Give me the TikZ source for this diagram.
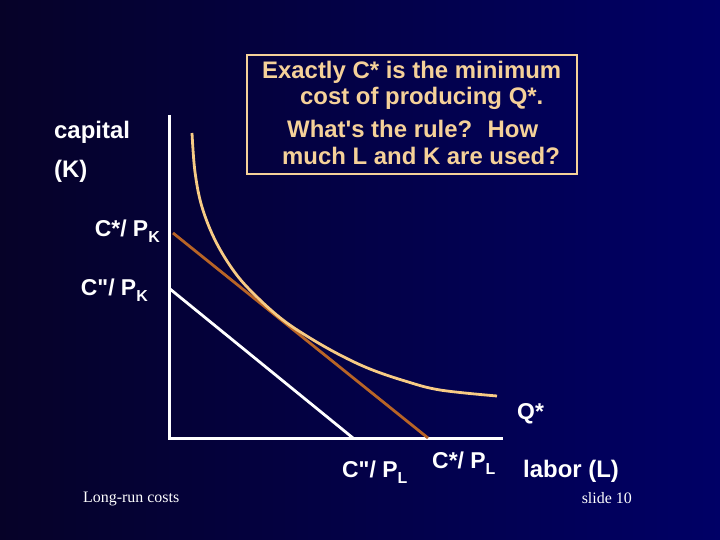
\documentclass[tikz,border=0pt]{standalone}
\usepackage{fontspec}
\setmainfont{Liberation Serif}
\setsansfont{Liberation Sans}[Ligatures=TeXOff]
\usetikzlibrary{positioning}
\definecolor{DeepNavy}{HTML}{060228}
\definecolor{SlideBlue}{HTML}{000066}
\definecolor{PaleTan}{HTML}{F7CB85}
\definecolor{Sienna}{HTML}{B86426}
\definecolor{NoteGold}{HTML}{F5D199}
\newcommand{\lowidx}[1]{\raisebox{-6bp}{\fontsize{16}{16}\selectfont #1}}

\begin{document}
\begin{tikzpicture}[x=1bp,y=-1bp,
  lbl/.style={text=white,inner sep=0pt,font=\sffamily\bfseries\fontsize{23}{26}\selectfont},
  biglbl/.style={text=white,inner sep=0pt,font=\sffamily\bfseries\fontsize{24}{27}\selectfont},
  foot/.style={text=white,inner sep=0pt,font=\rmfamily\fontsize{16}{19}\selectfont},
  note/.style={text=NoteGold,inner sep=0pt,align=left,font=\sffamily\bfseries\fontsize{24}{27}\selectfont},
  frame/.style={draw=NoteGold,line width=1.3bp},
  axis/.style={draw=white,line width=3bp,line join=miter},
  budget/.style={line width=2.8bp},
  isoquant/.style={draw=PaleTan,line width=2.8bp}
]
\fill[left color=DeepNavy,right color=SlideBlue] (0,0) rectangle (720,540);
\useasboundingbox (0,0) rectangle (720,540);
% axes
\coordinate (origin) at (169,438);
\coordinate (ktop) at (169,115);
\coordinate (lend) at (503,438);
\draw[axis] (ktop) -- (origin) -- (lend);
% budget lines
\coordinate (kpp) at (170,289);
\coordinate (lpp) at (353,438);
\coordinate (kstar) at (173,233);
\coordinate (lstar) at (428,438);
\draw[budget,draw=white] (kpp) -- (lpp);
\draw[budget,draw=Sienna] (kstar) -- (lstar);
% isoquant Q*
\draw[isoquant] plot[smooth,tension=0.6] coordinates {(192,133) (195,172) (202,207) (216,242) (236,274) (258,298) (283,320) (310,338) (340,355) (370,369) (405,381) (440,390) (497,396)};
% labels
\node[biglbl,anchor=base west] (capname) at (54,139) {capital};
\node[biglbl,anchor=base west] (kname) at (54,178) {(K)};
\node[lbl,anchor=base east] (kstarlbl) at (160,237) {C*/ P\lowidx{K}};
\node[lbl,anchor=base east] (kpplbl) at (148,295) {C"/ P\lowidx{K}};
\node[lbl,anchor=base west] (qlbl) at (517,419) {Q*};
\node[lbl,anchor=base west] (lpplbl) at (342,477) {C"/ P\lowidx{L}};
\node[lbl,anchor=base west] (lstarlbl) at (432,468) {C*/ P\lowidx{L}};
\node[biglbl,anchor=base west] (lname) at (523,477) {labor (L)};
% note box
\draw[frame] (247,55) rectangle (577,174);
\node[note,anchor=north west] (note) at (262,60.5) {Exactly C* is the minimum\\\hspace*{38bp}cost of producing Q*.\\[6bp]\hspace*{25bp}What's the rule? \ How\\\hspace*{20bp}much L and K are used?};
\node[foot,anchor=base west] (title) at (83,502) {Long-run costs};
\node[foot,anchor=base east] (slideno) at (632,503) {slide 10};
\end{tikzpicture}
\end{document}
